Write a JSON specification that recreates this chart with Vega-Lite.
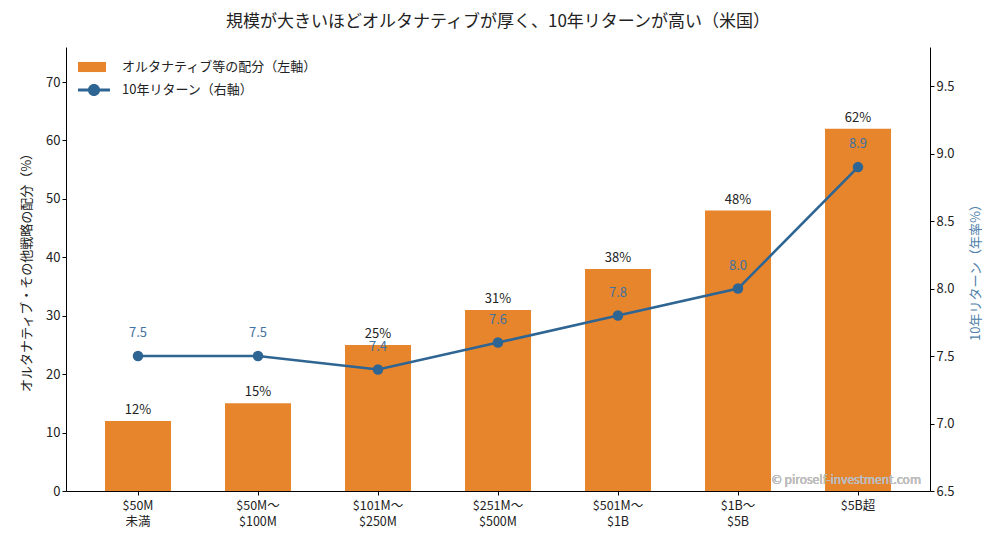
{
  "$schema": "https://vega.github.io/schema/vega-lite/v6.json",
  "width": 864,
  "height": 444,
  "autosize": "none",
  "padding": {"left": 66, "top": 47, "right": 70, "bottom": 56},
  "title": {
    "text": "規模が大きいほどオルタナティブが厚く、10年リターンが高い（米国）",
    "fontSize": 17, "fontWeight": "normal", "color": "#222", "offset": 16, "anchor": "middle"
  },
  "config": {
    "font": "Noto Sans CJK JP",
    "view": {"stroke": null},
    "axis": {
      "grid": false, "domainColor": "#000", "tickColor": "#000", "tickSize": 4,
      "labelColor": "#222", "labelFontSize": 13, "titleFontSize": 13,
      "titleFontWeight": "normal", "titleColor": "#222"
    },
    "legend": {"labelFontSize": 13, "labelColor": "#222", "labelLimit": 400}
  },
  "data": {
    "values": [
      {"size": "$50M|未満", "alloc": 12, "ret": 7.5},
      {"size": "$50M〜|$100M", "alloc": 15, "ret": 7.5},
      {"size": "$101M〜|$250M", "alloc": 25, "ret": 7.4},
      {"size": "$251M〜|$500M", "alloc": 31, "ret": 7.6},
      {"size": "$501M〜|$1B", "alloc": 38, "ret": 7.8},
      {"size": "$1B〜|$5B", "alloc": 48, "ret": 8.0},
      {"size": "$5B超", "alloc": 62, "ret": 8.9}
    ]
  },
  "encoding": {
    "x": {
      "field": "size", "type": "nominal", "sort": null,
      "scale": {"paddingInner": 0.45, "paddingOuter": 0.325},
      "axis": {
        "title": null, "labelAngle": 0, "labelExpr": "split(datum.label, '|')",
        "labelFontSize": 12.5, "labelLineHeight": 16, "labelPadding": 4
      }
    }
  },
  "layer": [
    {
      "encoding": {
        "y": {
          "field": "alloc", "type": "quantitative",
          "scale": {"domain": [0, 76], "nice": false},
          "axis": {
            "title": "オルタナティブ・その他戦略の配分（%）",
            "values": [0, 10, 20, 30, 40, 50, 60, 70], "titlePadding": 12
          }
        }
      },
      "layer": [
        {
          "mark": {"type": "bar", "opacity": 0.95},
          "encoding": {
            "fill": {
              "datum": "オルタナティブ等の配分（左軸）",
              "scale": {"range": ["#e67e22"]},
              "legend": {
                "title": null, "orient": "none", "legendX": 12, "legendY": 6, "padding": 0,
                "symbolType": "M-1,-0.36H1V0.36H-1Z", "symbolSize": 784,
                "symbolStrokeWidth": 0, "labelOffset": 16
              }
            }
          }
        },
        {
          "mark": {"type": "text", "baseline": "bottom", "dy": -4, "fontSize": 13, "color": "#222",
                   "text": {"expr": "datum.alloc + '%'"}},
          "encoding": {}
        },
        {
          "mark": {"type": "text", "align": "right", "baseline": "middle", "dx": 63, "dy": -11,
                   "fontSize": 12, "fontWeight": "normal", "color": "#bdbdbd", "opacity": 0.75,
                   "text": "© piroself-investment.com"},
          "encoding": {"x": {"datum": "$5B超"}, "y": {"datum": 0}}
        }
      ]
    },
    {
      "encoding": {
        "y": {
          "field": "ret", "type": "quantitative",
          "scale": {"domain": [6.5, 9.79], "nice": false, "zero": false},
          "axis": {
            "orient": "right", "title": "10年リターン（年率%）",
            "values": [6.5, 7, 7.5, 8, 8.5, 9, 9.5], "format": ".1f",
            "titleAngle": 270, "titleBaseline": "top", "titleColor": "#4f7faa", "titlePadding": 15
          }
        }
      },
      "layer": [
        {
          "mark": {"type": "line", "strokeWidth": 2.6},
          "encoding": {
            "stroke": {
              "datum": "10年リターン（右軸）",
              "scale": {"range": ["#2e6592"]},
              "legend": {
                "title": null, "orient": "none", "legendX": 12, "legendY": 27, "padding": 0,
                "symbolType": "M-1,-0.09H1V0.09H-1Z M0.38,0A0.38,0.38 0 1,1 -0.38,0A0.38,0.38 0 1,1 0.38,0Z",
                "symbolSize": 1024, "labelOffset": 12,
                "encode": {"symbols": {"update": {"fill": {"value": "#2e6592"}, "strokeWidth": {"value": 0}}}}
              }
            }
          }
        },
        {
          "mark": {"type": "point", "filled": true, "size": 110, "color": "#2e6592", "opacity": 1},
          "encoding": {}
        },
        {
          "mark": {"type": "text", "baseline": "bottom", "dy": -16, "fontSize": 13, "color": "#42729f"},
          "encoding": {"text": {"field": "ret", "type": "quantitative", "format": ".1f"}}
        }
      ]
    }
  ],
  "resolve": {"scale": {"y": "independent"}}
}
